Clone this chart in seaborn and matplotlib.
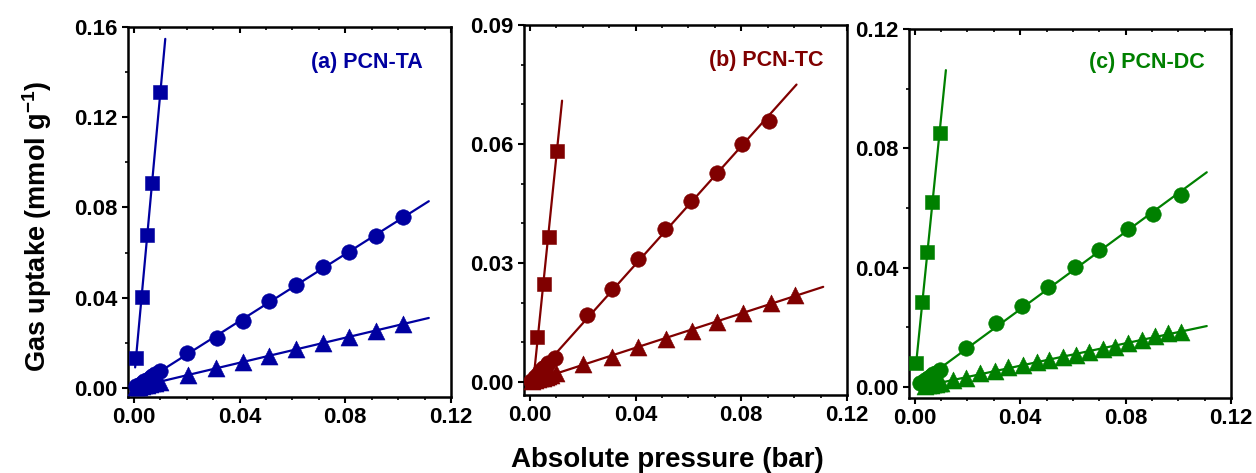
import numpy as np
import pandas as pd
import matplotlib
matplotlib.use("Agg")
import matplotlib.pyplot as plt
import seaborn as sns
from matplotlib.ticker import MultipleLocator, AutoMinorLocator, FormatStrFormatter

# ---------------- data ----------------
# (a) PCN-TA
a_sq_x = [0.0008, 0.003, 0.005, 0.007, 0.010]
a_sq_y = [0.0133, 0.0403, 0.0678, 0.0908, 0.131]
a_ci_x = [0.001, 0.002, 0.003, 0.004, 0.005, 0.006, 0.007, 0.008, 0.010,
          0.0201, 0.0316, 0.0414, 0.0513, 0.0613, 0.0717, 0.0814, 0.0916, 0.1017]
a_ci_y = [0.0008, 0.0015, 0.0022, 0.0030, 0.0037, 0.0045, 0.0052, 0.0060, 0.0075,
          0.0154, 0.0223, 0.0297, 0.0385, 0.0456, 0.0537, 0.0604, 0.0673, 0.0759]
a_tr_x = [0.001, 0.002, 0.003, 0.004, 0.005, 0.006, 0.007, 0.008, 0.010,
          0.0204, 0.0312, 0.0414, 0.0513, 0.0613, 0.0716, 0.0814, 0.0916, 0.1017]
a_tr_y = [0.0003, 0.0006, 0.0009, 0.0011, 0.0014, 0.0017, 0.0020, 0.0022, 0.0028,
          0.0058, 0.0090, 0.0117, 0.0142, 0.0171, 0.0201, 0.0227, 0.0253, 0.0282]

# (b) PCN-TC
b_sq_x = [0.0029, 0.0052, 0.0071, 0.0101]
b_sq_y = [0.0114, 0.0246, 0.0365, 0.0582]
b_ci_x = [0.0005, 0.002, 0.003, 0.004, 0.005, 0.006, 0.007, 0.0097,
          0.0215, 0.031, 0.0411, 0.0513, 0.0609, 0.0708, 0.0803, 0.0906]
b_ci_y = [0.0003, 0.0013, 0.0020, 0.0027, 0.0034, 0.0041, 0.0048, 0.0060,
          0.0169, 0.0234, 0.0310, 0.0385, 0.0456, 0.0528, 0.0599, 0.0659]
b_tr_x = [0.001, 0.002, 0.003, 0.004, 0.005, 0.006, 0.007, 0.008, 0.010,
          0.020, 0.031, 0.0411, 0.0514, 0.0613, 0.0708, 0.0807, 0.0914, 0.1005]
b_tr_y = [0.0002, 0.0004, 0.0007, 0.0009, 0.0011, 0.0013, 0.0015, 0.0017, 0.0022,
          0.0045, 0.0062, 0.0087, 0.0108, 0.0129, 0.0152, 0.0175, 0.0200, 0.0219]

# (c) PCN-DC
c_sq_x = [0.0006, 0.0029, 0.0047, 0.0066, 0.0095]
c_sq_y = [0.0079, 0.0286, 0.0453, 0.0621, 0.0850]
c_ci_x = [0.002, 0.003, 0.004, 0.005, 0.006, 0.007, 0.008, 0.0095,
          0.0196, 0.0307, 0.0405, 0.0506, 0.0608, 0.0699, 0.0810, 0.0903, 0.1009]
c_ci_y = [0.0012, 0.0018, 0.0024, 0.0030, 0.0036, 0.0042, 0.0048, 0.0057,
          0.0132, 0.0213, 0.0272, 0.0336, 0.0403, 0.0459, 0.0528, 0.0579, 0.0643]
c_tr_x = [0.004, 0.005, 0.006, 0.007, 0.008, 0.009, 0.010,
          0.0146, 0.0196, 0.0247, 0.0304, 0.0354, 0.0409, 0.0462, 0.0510, 0.0561,
          0.0612, 0.0662, 0.0713, 0.0760, 0.0810, 0.0861, 0.0912, 0.0962, 0.1009]
c_tr_y = [0.0004, 0.0006, 0.0007, 0.0009, 0.0011, 0.0012, 0.0014,
          0.0023, 0.0031, 0.0046, 0.0055, 0.0066, 0.0074, 0.0084, 0.0091, 0.0099,
          0.0107, 0.0118, 0.0128, 0.0135, 0.0148, 0.0158, 0.0170, 0.0182, 0.0185]

# x-extent of the fitted straight lines (sq, ci, tr)
a_fit_range = [(0.0005, 0.0119), (0.0, 0.1116), (0.0, 0.1116)]
b_fit_range = [(0.0015, 0.0122), (0.0, 0.1009), (0.0, 0.1110)]
c_fit_range = [(0.0004, 0.0118), (0.002, 0.1108), (0.004, 0.1108)]

titles = ["(a) PCN-TA", "(b) PCN-TC", "(c) PCN-DC"]
colors = ["#0000A0", "#800000", "#008000"]
y_max = [0.16, 0.09, 0.12]
y_min = [-0.004, -0.0033, -0.0037]
y_major = [0.04, 0.03, 0.04]
y_minor_n = [2, 3, 2]
x_ticks = [0.00, 0.04, 0.08, 0.12]

panels = [
    [(a_sq_x, a_sq_y), (a_ci_x, a_ci_y), (a_tr_x, a_tr_y)],
    [(b_sq_x, b_sq_y), (b_ci_x, b_ci_y), (b_tr_x, b_tr_y)],
    [(c_sq_x, c_sq_y), (c_ci_x, c_ci_y), (c_tr_x, c_tr_y)],
]
fit_ranges = [a_fit_range, b_fit_range, c_fit_range]
markers = ["s", "o", "^"]
msizes = [95, 125, 150]

# ---------------- style ----------------
sns.set_style("ticks")
plt.rcParams["font.family"] = ["Liberation Sans", "DejaVu Sans"]
plt.rcParams["font.weight"] = "bold"
for key in ["text.color", "axes.labelcolor", "xtick.color", "ytick.color", "axes.edgecolor"]:
    plt.rcParams[key] = "black"
plt.rcParams["axes.linewidth"] = 1.8
plt.rcParams["mathtext.fontset"] = "custom"
plt.rcParams["mathtext.rm"] = "Liberation Sans:bold"
plt.rcParams["mathtext.bf"] = "Liberation Sans:bold"

fig = plt.figure(figsize=(12.56, 4.73), dpi=100)
W, H = 1256, 473
boxes = [(128, 27, 451, 397), (524, 25, 847, 395), (909, 29, 1231, 398)]

for i, (l, t, r, b) in enumerate(boxes):
    ax = fig.add_axes([l / W, 1 - b / H, (r - l) / W, (b - t) / H])
    col = colors[i]
    for j, (xs, ys) in enumerate(panels[i]):
        df = pd.DataFrame({"x": xs, "y": ys})
        k, c0 = np.polyfit(xs, ys, 1)
        x0, x1 = fit_ranges[i][j]
        fx = np.array([x0, x1])
        fdf = pd.DataFrame({"x": fx, "y": k * fx + c0})
        sns.lineplot(data=fdf, x="x", y="y", ax=ax, color=col, lw=1.6,
                     sort=False, estimator=None, zorder=2)
        sns.scatterplot(data=df, x="x", y="y", ax=ax, color=col, marker=markers[j],
                        s=msizes[j], edgecolor=col, linewidth=0.4, zorder=3)
    ax.set_xlim(-0.0022, 0.12)
    ax.set_ylim(y_min[i], y_max[i])
    ax.set_xticks(x_ticks)
    ax.xaxis.set_major_formatter(FormatStrFormatter("%.2f"))
    ax.yaxis.set_major_locator(MultipleLocator(y_major[i]))
    ax.yaxis.set_major_formatter(FormatStrFormatter("%.2f"))
    ax.xaxis.set_minor_locator(AutoMinorLocator(4))
    ax.yaxis.set_minor_locator(AutoMinorLocator(y_minor_n[i]))
    ax.tick_params(axis="both", which="major", direction="out", length=4.5, width=1.5,
                   labelsize=16, pad=3, colors="black")
    ax.tick_params(axis="both", which="minor", direction="out", length=2.5, width=1.2,
                   colors="black")
    ax.tick_params(axis="x", which="both", top=True)
    ax.tick_params(axis="x", which="major", labeltop=False)
    for lab in ax.get_xticklabels() + ax.get_yticklabels():
        lab.set_fontweight("bold")
    for sp in ax.spines.values():
        sp.set_visible(True)
        sp.set_linewidth(1.8)
        sp.set_color("black")
    # top ticks point inward
    for tk in ax.xaxis.get_major_ticks() + ax.xaxis.get_minor_ticks():
        tk.tick2line.set_marker(matplotlib.lines.TICKDOWN)
    ax.set_xlabel("")
    ax.set_ylabel("")
    ax.text([0.913, 0.926, 0.919][i], [0.905, 0.905, 0.91][i], titles[i],
            transform=ax.transAxes, ha="right", va="center", color=col,
            fontsize=15.5, fontweight="bold")

fig.text(37 / W, 1 - 226 / H, "Gas uptake (mmol g$^{\\mathrm{-1}}$)", rotation=90,
         ha="center", va="center", fontsize=19.5, fontweight="bold", color="black")
fig.text(667 / W, 1 - 460 / H, "Absolute pressure (bar)", ha="center", va="center",
         fontsize=20, fontweight="bold", color="black")

fig.savefig("out.png", dpi=100)
